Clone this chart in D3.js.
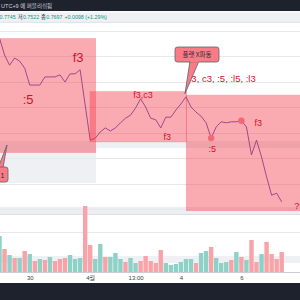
<!DOCTYPE html>
<html><head><meta charset="utf-8">
<script src="https://cdn.jsdelivr.net/npm/d3@7"></script>
<style>html,body{margin:0;padding:0;background:#fff;}svg{display:block;}</style>
</head><body><div id="chart"></div>
<script>
// ---- data ----
const prices = [0.7785,0.7752,0.7732,0.7746,0.7740,0.7726,0.7693,0.7693,0.7693,0.7709,
  0.7709,0.7709,0.7713,0.7699,0.7715,0.7715,0.7723,0.7654,0.7585,0.7589,
  0.7601,0.7609,0.7603,0.7609,0.7619,0.7628,0.7634,0.7648,0.7666,0.7650,
  0.7628,0.7625,0.7609,0.7630,0.7630,0.7644,0.7656,0.7670,0.7650,0.7640,
  0.7632,0.7619,0.7589,0.7611,0.7621,0.7619,0.7621,0.7621,0.7623,0.7611,
  0.7556,0.7585,0.7552,0.7513,0.7477,0.7481,0.7464];
const volumes = [36,23,17,14,14,21,18,11,13,12,15,11,13,14,17,13,14,66,27,13,
  28,15,15,19,13,10,14,9,11,16,11,9,22,9,7,8,10,13,13,9,
  19,21,25,14,9,10,12,20,15,12,32,10,18,30,18,13,20];
const volDir = "ududududududdduuudduuduuuduuddddduuuuuuduuduuudududduddddu".split("");
const tickIndex = [6,18,27,36,48];
const tickLabels = ["30","4월","13:00","4","6"];
// zones: [startIndex, endIndex, highPrice, lowPrice]
const zoneStart = [0.1, 17.9, 37.0];
const zoneEnd   = [19.15, 37.2, 61];
const zoneHigh  = [0.7785, 0.7681, 0.7674];
const zoneLow   = [0.7560, 0.7581, 0.7446];
// labels
const labelIdx   = [15.6, 5.67, 28.5, 33.3, 38.07, 42.2, 50.6, 58.5];
const labelPrice = [0.7738, 0.7656, 0.7668, 0.7585, 0.7699, 0.7562, 0.7613, 0.7450];
const labelText  = ["f3", ":5", "f3,c3", "f3", "3, c3, :5, :l5, :l3", ":5", "f3", "??"];
const labelSize  = [13, 13, 9, 9, 9.5, 9, 9, 9];
const labelAnchor= ["middle","middle","middle","middle","start","middle","start","start"];
const dotIdx = [42, 48];
const callText = "플랫 X파동";
const headerText = "6 UTC+9 에 퍼블리쉬됨";
const ohlcParts = [["", "0.7745"], ["저", "0.7522"], ["종", "0.7697"], ["", "+0.0098 (+1.29%)"]];

// ---- drawing ----
const W = 300, H = 300;
const svg = d3.select("#chart").append("svg").attr("width", W).attr("height", H)
  .style("font-family", "'Liberation Sans', Arial, sans-serif");

const x = d3.scaleLinear().domain([0, 56]).range([-0.5, 281.7]);
const y = d3.scaleLinear().domain([0.745, 0.780]).range([209, 30.5]);
const yv = d3.scaleLinear().domain([0, 66]).range([272, 206]);

svg.append("rect").attr("width", W).attr("height", H).attr("fill", "#fff");

// gray bands
svg.append("rect").attr("x", 0).attr("y", 141).attr("width", W).attr("height", 7).attr("fill", "#eef0f3");
svg.append("rect").attr("x", 0).attr("y", 148).attr("width", 96).attr("height", 35).attr("fill", "#eef0f3");
svg.append("rect").attr("x", 0).attr("y", 207).attr("width", W).attr("height", 7).attr("fill", "#eceef1");
svg.append("rect").attr("x", 0).attr("y", 256).attr("width", W).attr("height", 7).attr("fill", "#eef0f3");

// grid
const gridVals = d3.range(0.745, 0.7801, 0.005);
svg.append("g").selectAll("line").data(gridVals).join("line")
  .attr("x1", 0).attr("x2", W)
  .attr("y1", d => Math.round(y(d)) + 0.5).attr("y2", d => Math.round(y(d)) + 0.5)
  .attr("stroke", "#e6e8ec").attr("stroke-width", 1);
svg.append("line").attr("x1", 0).attr("x2", W).attr("y1", 214.5).attr("y2", 214.5).attr("stroke", "#dcdfe5");
svg.append("line").attr("x1", 0).attr("x2", W).attr("y1", 232.5).attr("y2", 232.5).attr("stroke", "#e6e8ec");

// volume bars
svg.append("g").selectAll("rect").data(volumes).join("rect")
  .attr("x", (d, i) => x(i) - 2.2).attr("width", 4.4)
  .attr("y", d => yv(d)).attr("height", d => yv(0) - yv(d))
  .attr("fill", (d, i) => volDir[i] === "u" ? "#8ed1c6" : "#f7a3a8");
svg.append("line").attr("x1", 0).attr("x2", W).attr("y1", 272.5).attr("y2", 272.5).attr("stroke", "#c9ccd3");

// price line
svg.append("path").datum(prices)
  .attr("d", d3.line().x((d, i) => x(i)).y(d => y(d)))
  .attr("fill", "none").attr("stroke", "#5a3fb0").attr("stroke-width", 0.9);

// zones
svg.append("g").selectAll("rect").data(zoneStart).join("rect")
  .attr("x", (d, i) => x(d)).attr("width", (d, i) => x(zoneEnd[i]) - x(d))
  .attr("y", (d, i) => y(zoneHigh[i])).attr("height", (d, i) => y(zoneLow[i]) - y(zoneHigh[i]))
  .attr("fill", "rgba(242,54,69,0.42)");

// dots
svg.append("g").selectAll("circle").data(dotIdx).join("circle")
  .attr("cx", d => x(d)).attr("cy", d => y(prices[d])).attr("r", 3.2)
  .attr("fill", "#f06a76");

// labels
svg.append("g").selectAll("text").data(labelText).join("text")
  .attr("x", (d, i) => x(labelIdx[i])).attr("y", (d, i) => y(labelPrice[i]))
  .attr("text-anchor", (d, i) => labelAnchor[i])
  .attr("font-size", (d, i) => labelSize[i])
  .attr("fill", "#d0122a").text(d => d);

// callout
const cg = svg.append("g");
cg.append("path").attr("d", `M190,61 L199,61 L${x(37) - 1},${y(prices[37]) - 3} Z`)
  .attr("fill", "#f77c86").attr("stroke", "#5d606b").attr("stroke-width", 0.8);
cg.append("rect").attr("x", 175).attr("y", 47).attr("width", 44).attr("height", 15).attr("rx", 2.5)
  .attr("fill", "#f77c86").attr("stroke", "#5d606b").attr("stroke-width", 0.8);
cg.append("rect").attr("x", 190.5).attr("y", 60).attr("width", 8).attr("height", 2.5).attr("fill", "#f77c86");
cg.append("text").attr("x", 197).attr("y", 57.3).attr("text-anchor", "middle")
  .attr("font-size", 6.5).attr("font-family", "'Noto Sans CJK KR', sans-serif")
  .attr("fill", "#2a2e39").text(callText);

// left badge
const bg = svg.append("g");
bg.append("path").attr("d", "M-2,168 L3,168 L7,145 Z").attr("fill", "#f77c86").attr("stroke", "#5d606b").attr("stroke-width", 0.8);
bg.append("rect").attr("x", -8).attr("y", 167).attr("width", 16).attr("height", 15).attr("rx", 2.5)
  .attr("fill", "#f77c86").attr("stroke", "#5d606b").attr("stroke-width", 0.8);
bg.append("text").attr("x", 2.5).attr("y", 177.5).attr("text-anchor", "middle").attr("font-size", 7)
  .attr("fill", "#2a2e39").text("1");

// time axis
const xa = d3.axisBottom(x).tickValues(tickIndex).tickFormat((d, i) => tickLabels[i]).tickSize(0).tickPadding(0);
const ax = svg.append("g").attr("transform", "translate(0,275)").call(xa);
ax.select(".domain").remove();
ax.selectAll("text").attr("font-size", 6).attr("fill", "#3a3e48")
  .attr("font-family", "'Liberation Sans', 'Noto Sans CJK KR', sans-serif").attr("dy", "0.9em");

// header bars
svg.append("rect").attr("x", 0).attr("y", 0).attr("width", W).attr("height", 11).attr("fill", "#1e222d");
svg.append("rect").attr("x", 0).attr("y", 11).attr("width", W).attr("height", 1.5).attr("fill", "#f8f9fb");
svg.append("rect").attr("x", 0).attr("y", 12.5).attr("width", W).attr("height", 9).attr("fill", "#eef0f3");
svg.append("rect").attr("x", 0).attr("y", 21.5).attr("width", W).attr("height", 1.5).attr("fill", "#e2e5ea");
svg.append("text").attr("x", -3.5).attr("y", 8).attr("font-size", 5.5)
  .attr("font-family", "'Liberation Sans', 'Noto Sans CJK KR', sans-serif")
  .attr("fill", "#d1d4dc").text(headerText);
const ot = svg.append("text").attr("x", -0.5).attr("y", 19).attr("font-size", 5.3)
  .attr("font-family", "'Liberation Sans', 'Noto Sans CJK KR', sans-serif");
ohlcParts.forEach((p, i) => {
  if (p[0]) ot.append("tspan").attr("fill", "#2a2e39").attr("dx", i ? 2 : 0).text(p[0]);
  ot.append("tspan").attr("fill", "#089981").attr("dx", p[0] ? 0.3 : (i ? 2 : 0)).text(p[1]);
});

// bottom bar
svg.append("rect").attr("x", 0).attr("y", 283).attr("width", W).attr("height", 17).attr("fill", "#1e222d");
</script></body></html>
